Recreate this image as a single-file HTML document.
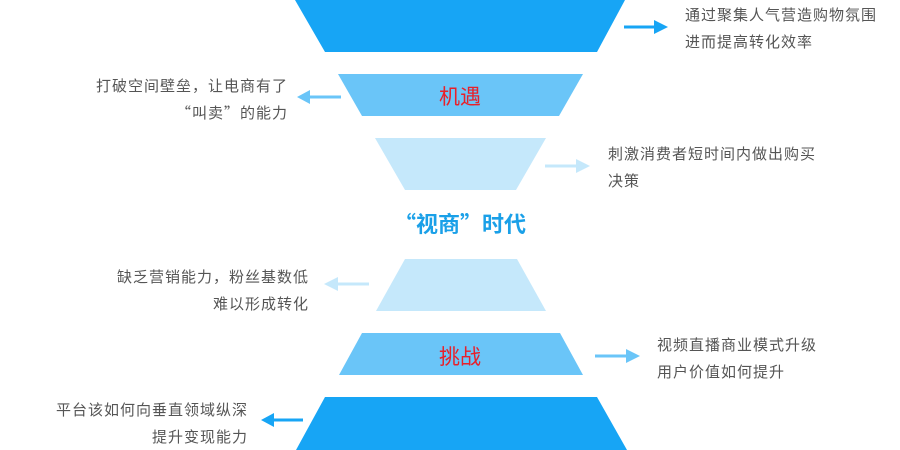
<!DOCTYPE html>
<html><head><meta charset="utf-8"><style>
body{margin:0;width:900px;height:450px;overflow:hidden;background:#fff;font-family:"Liberation Sans","Noto Sans CJK SC",sans-serif}
.t{position:absolute;font-size:15px;letter-spacing:1px;color:#555;line-height:27px;white-space:nowrap;font-family:"Noto Sans CJK SC",sans-serif}
</style></head><body>
<svg width="900" height="450" style="position:absolute;left:0;top:0">
<polygon points="295,0 625,0 597,52 325,52" fill="#17a5f5"/>
<polygon points="338,74 583,74 559,116 362,116" fill="#6ac5f8"/>
<polygon points="375,138 546,138 516,190 405,190" fill="#c5e8fb"/>
<polygon points="405,259 517,259 546,311 376,311" fill="#c5e8fb"/>
<polygon points="362,333 560,333 583,375 339,375" fill="#6ac5f8"/>
<polygon points="325,397 597,397 627,450 296,450" fill="#17a5f5"/>
<g stroke-width="3">
<line x1="624" y1="27" x2="656" y2="27" stroke="#17a5f5"/><polygon points="654,20 668,27 654,34" fill="#17a5f5"/>
<line x1="341" y1="97" x2="308" y2="97" stroke="#6ac5f8"/><polygon points="310,90 297,97 310,104" fill="#6ac5f8"/>
<line x1="545" y1="166" x2="578" y2="166" stroke="#c5e8fb"/><polygon points="576,159 590,166 576,173" fill="#c5e8fb"/>
<line x1="369" y1="284" x2="336" y2="284" stroke="#c5e8fb"/><polygon points="338,277 324,284 338,291" fill="#c5e8fb"/>
<line x1="595" y1="356" x2="628" y2="356" stroke="#6ac5f8"/><polygon points="626,349 640,356 626,363" fill="#6ac5f8"/>
<line x1="303" y1="420" x2="272" y2="420" stroke="#17a5f5"/><polygon points="274,413 261,420 274,427" fill="#17a5f5"/>
</g>
<text x="460" y="104" font-size="21" fill="#e8202a" text-anchor="middle" font-family="Noto Sans CJK SC,sans-serif">机遇</text>
<text x="460" y="364" font-size="21" fill="#e8202a" text-anchor="middle" font-family="Noto Sans CJK SC,sans-serif">挑战</text>
<text x="460" y="232" font-size="22" font-weight="bold" fill="#1aa0e8" text-anchor="middle" font-family="Noto Sans CJK SC,sans-serif">“视商”时代</text>
</svg>
<div class="t" style="left:685px;top:1px">通过聚集人气营造购物氛围<br>进而提高转化效率</div>
<div class="t" style="right:612px;top:72px;text-align:right">打破空间壁垒，让电商有了<br>“叫卖”的能力</div>
<div class="t" style="left:608px;top:140px">刺激消费者短时间内做出购买<br>决策</div>
<div class="t" style="right:591px;top:263px;text-align:right">缺乏营销能力，粉丝基数低<br>难以形成转化</div>
<div class="t" style="left:657px;top:331px">视频直播商业模式升级<br>用户价值如何提升</div>
<div class="t" style="right:652px;top:396px;text-align:right">平台该如何向垂直领域纵深<br>提升变现能力</div>
</body></html>
